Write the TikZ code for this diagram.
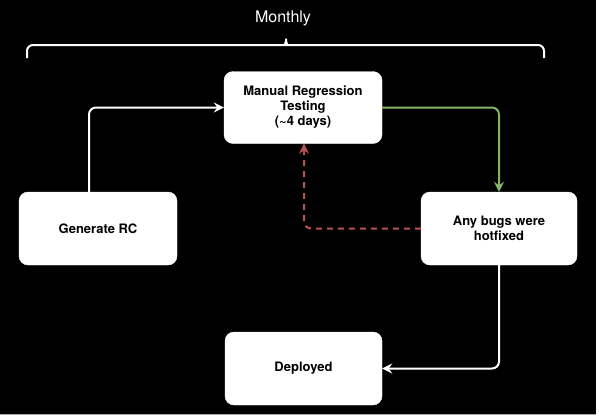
\documentclass[tikz,border=0pt]{standalone}
\usepackage{fontspec}
\setmainfont{TeX Gyre Heros}
\usetikzlibrary{arrows.meta}
\definecolor{okgreen}{HTML}{82B366}
\definecolor{errred}{HTML}{B85450}
\tikzset{
  box/.style={fill=white, draw=white, rounded corners=9pt, align=center,
    font=\fontsize{13pt}{15pt}\selectfont\bfseries, text=black, inner sep=0pt},
  conn/.style={line width=2pt, rounded corners=7pt,
    -{Stealth[length=10pt,width=10pt,inset=3.5pt]}},
}
\begin{document}
\begin{tikzpicture}[x=1pt,y=-1pt]
\useasboundingbox (0,0) rectangle (599,416);
\fill[white] (0,0) rectangle (599,416);
\fill[black] (0,0) rectangle (596,414);
\draw[gray!70, line width=1pt] (0,414.5) -- (596,414.5);

% brace
\node[text=white, font=\fontsize{16pt}{18pt}\selectfont] (monthly) at (283,18) {Monthly};
\draw[white, line width=2pt, rounded corners=6pt]
  (27,58) |- (279,45)
  .. controls (284,45) and (286,43) .. (286,35)
  .. controls (286,43) and (288,45) .. (293,45)
  -| (544,58);

% boxes
\node[box, minimum width=158pt, minimum height=72pt] (man) at (303,107.5) {Manual Regression\\Testing\\(\char`\~4 days)};
\node[box, minimum width=156pt, minimum height=73pt] (bugs) at (499,228.5) {Any bugs were\\hotfixed};
\node[box, minimum width=158pt, minimum height=73pt] (gen) at (98,228.5) {Generate RC};
\node[box, minimum width=157pt, minimum height=73pt] (dep) at (303.5,368.5) {Deployed};

% connectors
\draw[conn, white] ([xshift=-9pt]gen.north) |- (man.west);
\draw[conn, okgreen] (man.east) -| (bugs.north);
\draw[conn, errred, dash pattern=on 6pt off 5pt] (bugs.west) -| ([xshift=1pt]man.south);
\draw[conn, white] (bugs.south) |- (dep.east);
\end{tikzpicture}
\end{document}
